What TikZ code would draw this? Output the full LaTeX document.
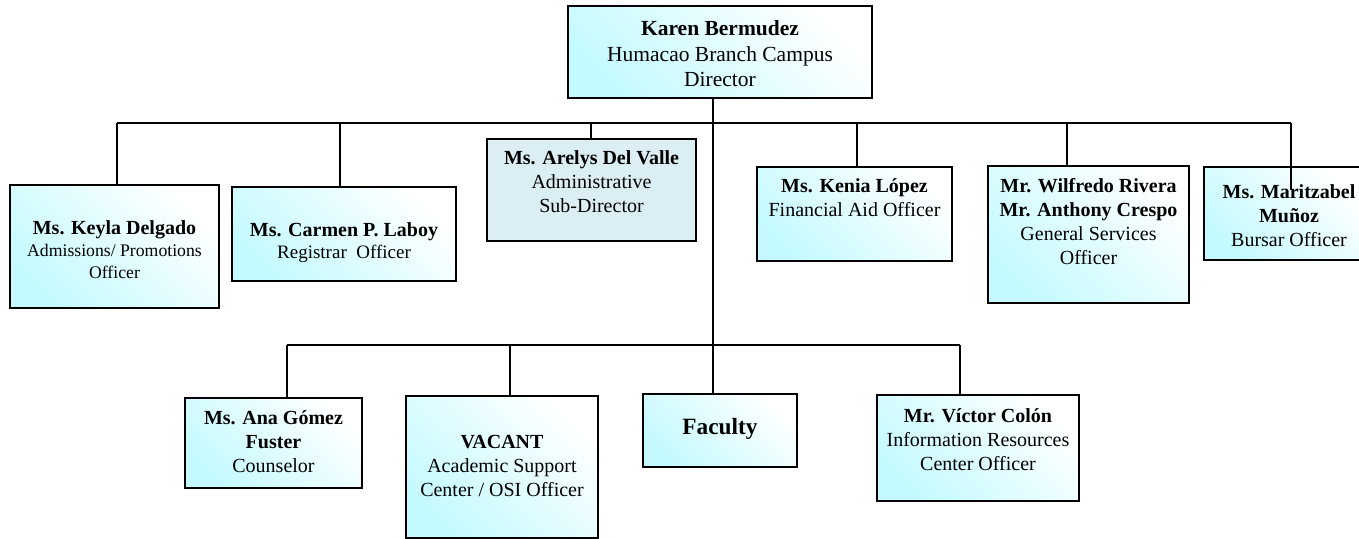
\documentclass[tikz,border=0pt]{standalone}
\usepackage{fontspec}
\setmainfont{Liberation Serif}
\definecolor{boxcyan}{RGB}{196,250,255}
\definecolor{subfill}{RGB}{218,238,243}
\begin{document}
\begin{tikzpicture}[x=1pt,y=-1pt,
  box/.style={draw=black, line width=1.4pt, inner sep=0pt, top color=white, bottom color=boxcyan, shading angle=-45},
  flatbox/.style={draw=black, line width=1.4pt, inner sep=0pt, fill=subfill},
  txt/.style={align=center, inner sep=0pt, font=\fontsize{20}{24}\selectfont},
  conn/.style={draw=black, line width=1.4pt}]
\useasboundingbox (0,0) rectangle (1359,538);
% boxes
\node[box, minimum width=304pt, minimum height=92pt] (top) at (720,52) {};
\node[box, minimum width=209pt, minimum height=123pt] (keyla) at (114.5,246.5) {};
\node[box, minimum width=224pt, minimum height=94pt] (carmen) at (344,234) {};
\node[flatbox, minimum width=209pt, minimum height=102pt] (arelys) at (591.5,190) {};
\node[box, minimum width=195pt, minimum height=94pt] (kenia) at (854.5,214) {};
\node[box, minimum width=201pt, minimum height=137pt] (wilfredo) at (1088.5,234.5) {};
\node[box, minimum width=160pt, minimum height=93pt] (marit) at (1284,213.5) {};
\node[box, minimum width=177pt, minimum height=90pt] (ana) at (273.5,443) {};
\node[box, minimum width=192pt, minimum height=142pt] (vacant) at (502,467) {};
\node[box, minimum width=154pt, minimum height=73pt] (faculty) at (720,430.5) {};
\node[box, minimum width=202pt, minimum height=106pt] (victor) at (978,448) {};
% texts
\node[txt, font=\fontsize{21.5}{25.5}\selectfont] (top-t) at (720,54) {\textbf{Karen Bermudez}\\Humacao Branch Campus\\Director};
\node[txt] (keyla-t) at (114.5,250) {\textbf{Ms. Keyla Delgado}\\[-2pt]{\fontsize{17.7}{21}\selectfont Admissions/ Promotions}\\[-2pt]{\fontsize{17.7}{21}\selectfont Officer}};
\node[txt] (carmen-t) at (344,243) {\textbf{Ms. Carmen P. Laboy}\\[-2pt]{\fontsize{19}{22}\selectfont Registrar\ \ Officer}};
\node[txt] (arelys-t) at (591.5,182) {\textbf{Ms. Arelys Del Valle}\\Administrative\\Sub-Director};
\node[txt] (kenia-t) at (854.5,198) {\textbf{Ms. Kenia López}\\Financial Aid Officer};
\node[txt] (wilfredo-t) at (1088.5,222) {\textbf{Mr. Wilfredo Rivera}\\\textbf{Mr. Anthony Crespo}\\General Services\\Officer};
\node[txt] (marit-t) at (1289,216) {\textbf{Ms. Maritzabel}\\\textbf{Muñoz}\\Bursar Officer};
\node[txt] (ana-t) at (273.5,442) {\textbf{Ms. Ana Gómez}\\\textbf{Fuster}\\Counselor};
\node[txt] (vacant-t) at (502,466) {\textbf{VACANT}\\Academic Support\\Center / OSI Officer};
\node[txt, font=\fontsize{23.3}{28}\selectfont] (faculty-t) at (720,429) {\textbf{Faculty}};
\node[txt] (victor-t) at (978,440) {\textbf{Mr. Víctor Colón}\\Information Resources\\Center Officer};
% bus coordinates
\coordinate (m1) at (713,123);
\coordinate (m2) at (713,345);
\coordinate (b1a) at (117,123);
\coordinate (b1b) at (340,123);
\coordinate (b1c) at (591,123);
\coordinate (b1d) at (857,123);
\coordinate (b1e) at (1067,123);
\coordinate (b1f) at (1291,123);
\coordinate (mEnd) at (1291,190);
\coordinate (b2a) at (287,345);
\coordinate (b2b) at (510,345);
\coordinate (b2d) at (960,345);
% connectors
\draw[conn] (top.south -| m1) -- (m2);
\draw[conn] (b1a) -- (b1f);
\draw[conn] (b2a) -- (b2d);
\draw[conn] (b1a) -- (b1a |- keyla.north);
\draw[conn] (b1b) -- (b1b |- carmen.north);
\draw[conn] (b1c) -- (b1c |- arelys.north);
\draw[conn] (b1d) -- (b1d |- kenia.north);
\draw[conn] (b1e) -- (b1e |- wilfredo.north);
\draw[conn] (b1f) -- (mEnd);
\draw[conn] (b2a) -- (b2a |- ana.north);
\draw[conn] (b2b) -- (b2b |- vacant.north);
\draw[conn] (m2) -- (m2 |- faculty.north);
\draw[conn] (b2d) -- (b2d |- victor.north);
\end{tikzpicture}
\end{document}
